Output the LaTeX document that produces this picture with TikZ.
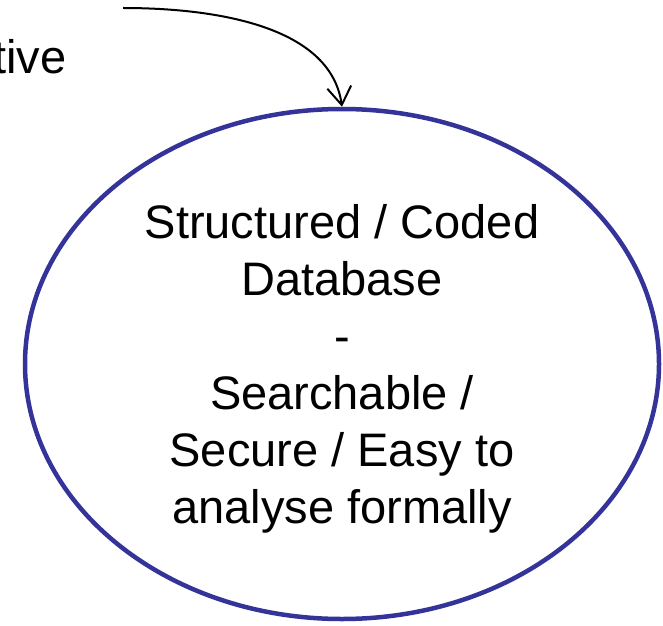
\documentclass[tikz,border=0pt]{standalone}
\usepackage{fontspec}
\setmainfont{Liberation Sans}
\usetikzlibrary{shapes.geometric,arrows.meta}
\definecolor{dbblue}{RGB}{51,51,153}
\begin{document}
\begin{tikzpicture}[x=1pt, y=1pt,
	big/.style={font=\fontsize{47}{57}\selectfont},
	store/.style={ellipse, draw=dbblue, line width=4.5pt, align=center,
		minimum width=634pt, minimum height=510pt, inner sep=0pt, text height=329pt}]
	\useasboundingbox (0,0) rectangle (663,625);

	\node[big, anchor=base east] (label) at (70,551) {tive};
	\node[big, store] (db) at (342,261) {Structured / Coded\\Database\\-\\Searchable /\\Secure / Easy to\\analyse formally};

	\coordinate (from) at (123,617);
	\draw [-{Straight Barb[length=18pt, width=24pt]}, line width=2pt]
		(from) to [out=0, in=98, looseness=0.9] (db.north);
\end{tikzpicture}
\end{document}
